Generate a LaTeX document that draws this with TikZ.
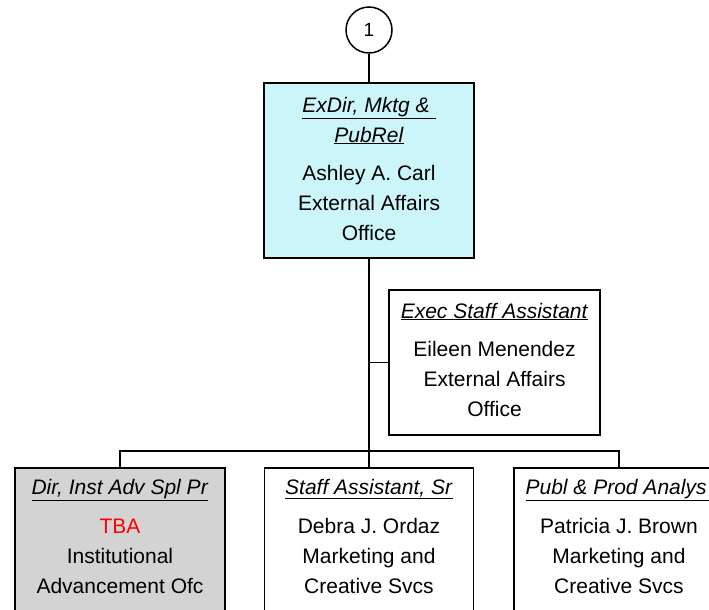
\documentclass[tikz,border=0pt]{standalone}
\usepackage{fontspec}
\setmainfont{Liberation Sans}
\definecolor{topfill}{RGB}{204,245,250}
\definecolor{grayfill}{RGB}{211,211,211}
\definecolor{tbared}{RGB}{255,0,0}
\newcommand\postitle[1]{\underline{\textit{#1}}}
\begin{document}
\begin{tikzpicture}[x=1pt,y=-1pt,
  box/.style={draw=black, line width=1.5pt, rectangle, inner sep=0pt},
  conn/.style={draw=black, line width=1.3pt},
  boxtext/.style={align=center, inner sep=0pt, font=\fontsize{21}{30}\selectfont, anchor=base}]
\clip (0,0) rectangle (709,610);
\fill[white] (0,0) rectangle (709,610);
% boxes
\node[box, circle, minimum size=46pt, fill=white, font=\fontsize{19}{22}\selectfont] (c1) at (369,30) {1};
\node[box, fill=topfill, minimum width=210pt, minimum height=175pt] (top) at (369,170.5) {};
\node[box, fill=white, minimum width=211pt, minimum height=145pt] (asst) at (494.5,362.5) {};
\node[box, fill=grayfill, minimum width=210pt, minimum height=160pt, anchor=north] (b1) at (120,467) {};
\node[box, fill=white, minimum width=209pt, minimum height=160pt, anchor=north] (b2) at (369,467) {};
\node[box, fill=white, minimum width=210pt, minimum height=160pt, anchor=north] (b3) at (619,467) {};
% texts (anchor=base is the baseline of the last line)
\node[boxtext] (ttop) at (369,240) {\postitle{ExDir, Mktg \&\ }\\ \postitle{PubRel}\\[8pt] Ashley A. Carl\\ External Affairs\\ Office};
\node[boxtext] (tasst) at (494.5,416) {\postitle{Exec Staff Assistant}\\[8pt] Eileen Menendez\\ External Affairs\\ Office};
\node[boxtext] (tb1) at (120,593) {\postitle{Dir, Inst Adv Spl Pr}\\[9pt] \textcolor{tbared}{TBA}\\ Institutional\\ Advancement Ofc};
\node[boxtext] (tb2) at (369,593) {\postitle{Staff Assistant, Sr}\\[9pt] Debra J. Ordaz\\ Marketing and\\ Creative Svcs};
\node[boxtext] (tb3) at (619,593) {\postitle{Publ \& Prod Analys\hphantom{t}}\\[9pt] Patricia J. Brown\\ Marketing and\\ Creative Svcs};
% connectors
\coordinate (bus) at (369,451);
\draw[conn] (c1.south) -- (top.north);
\draw[conn] (top.south) -- (b2.north);
\draw[conn] (top.south |- asst.west) -- (asst.west);
\draw[conn] (b1.north) |- (bus) -| (b3.north);
\end{tikzpicture}
\end{document}
